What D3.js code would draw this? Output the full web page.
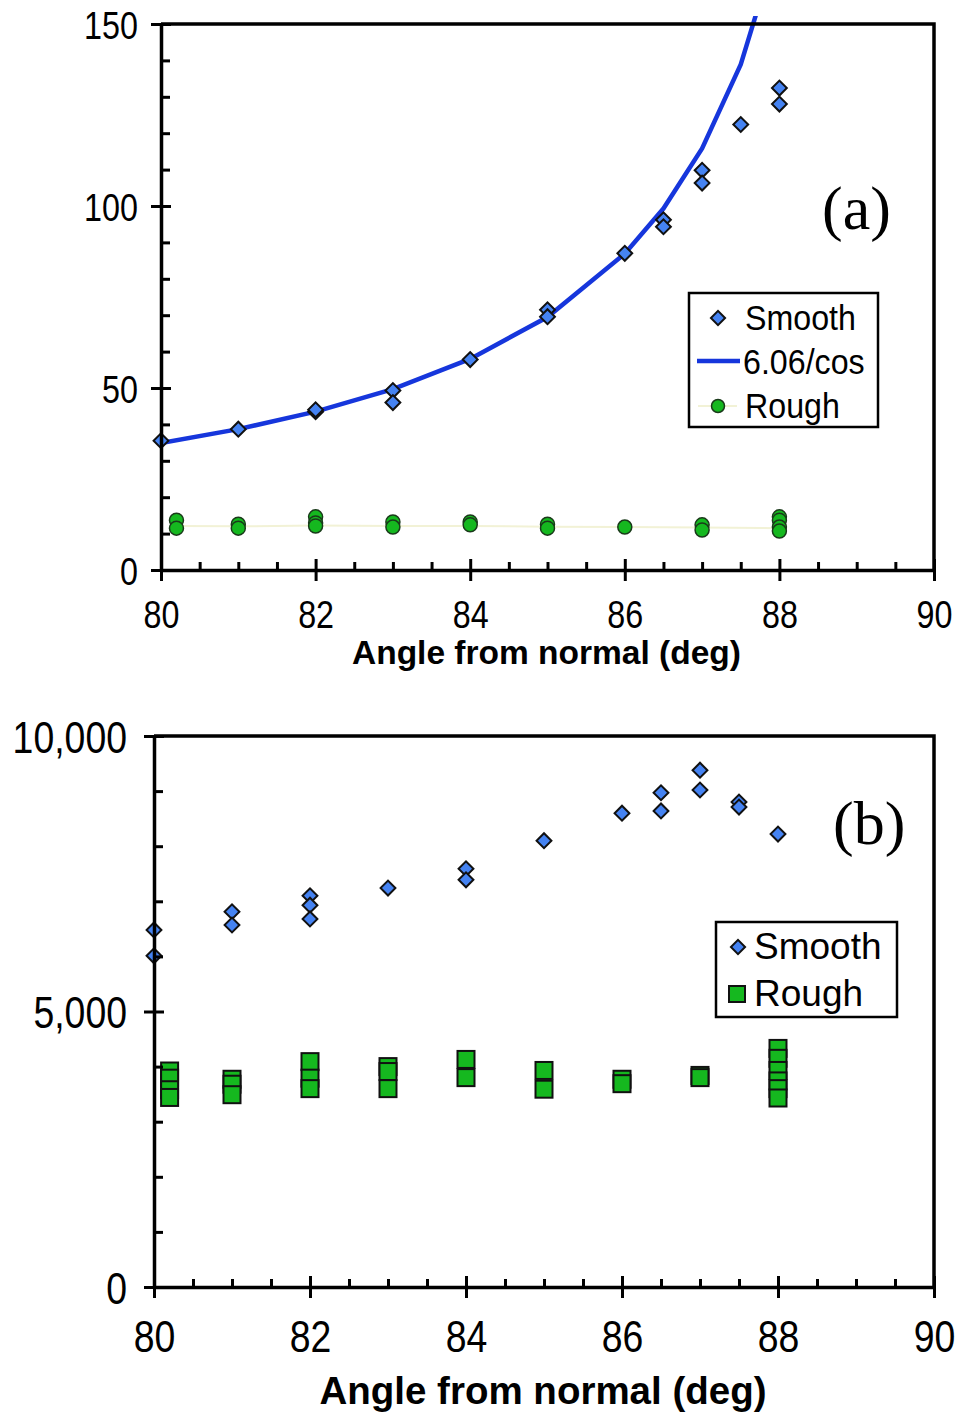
<!DOCTYPE html>
<html>
<head>
<meta charset="utf-8">
<script src="https://cdn.jsdelivr.net/npm/d3@7"></script>
<style>
    html, body { margin: 0; padding: 0; background: #fff; }
    svg { display: block; }
</style>
</head>
<body>
<div id="content"></div>
<script>

/* Chart values */

var majorAngles = [80, 82, 84, 86, 88, 90];
var majorTicksA = [0, 50, 100, 150];
var majorTicksB = [0, 5000, 10000];

// (a) smooth surface points
var smoothAnglesA = [80, 81, 82, 82, 83, 83, 84, 85, 85, 86, 86.5, 86.5, 87, 87, 87.5, 88, 88];
var smoothValuesA = [35.5, 38.7, 43.5, 44.0, 49.3, 46.0, 57.8, 71.5, 69.6, 87.0, 96.2, 94.3, 109.8, 106.3, 122.4, 132.4, 128.0];

// (a) 6.06/cos curve as plotted
var fitAngles = [80, 81, 82, 83, 84, 85, 86, 86.5, 87, 87.5, 88];
var fitValues = [34.9, 38.7, 43.5, 49.7, 58.0, 69.5, 86.9, 99.3, 115.8, 138.9, 173.6];

// (a) rough surface points and their faint trend line
var roughAnglesA = [80.2, 80.2, 81, 81, 82, 82, 82, 83, 83, 84, 84, 85, 85, 86, 87, 87, 88, 88, 88, 88];
var roughValuesA = [13.7, 11.5, 12.6, 11.5, 14.6, 12.9, 12.1, 13.2, 11.8, 13.2, 12.4, 12.6, 11.5, 11.8, 12.4, 11.0, 14.6, 13.7, 11.8, 10.7];
var roughTrendAngles = [80.2, 81, 82, 83, 84, 85, 86, 87, 88];
var roughTrendValues = [12.1, 12.0, 12.2, 12.1, 12.1, 11.9, 11.8, 11.7, 11.5];

// (b) smooth surface points
var smoothAnglesB = [80, 80, 81, 81, 82, 82, 82, 83, 84, 84, 85, 86, 86.5, 86.5, 87, 87, 87.5, 87.5, 88];
var smoothValuesB = [6480, 6010, 6810, 6570, 7100, 6930, 6680, 7240, 7590, 7390, 8100, 8600, 8970, 8640, 9380, 9020, 8800, 8710, 8220];

// (b) rough surface points
var roughAnglesB = [80.2, 80.2, 80.2, 80.2, 81, 81, 81, 82, 82, 82, 83, 83, 83, 84, 84, 85, 85, 86, 86, 87, 87, 88, 88, 88, 88, 88, 88];
var roughValuesB = [3920, 3790, 3580, 3440, 3770, 3680, 3490, 4090, 3790, 3600, 4000, 3910, 3600, 4130, 3800, 3930, 3590, 3770, 3690, 3840, 3800, 4330, 4150, 3930, 3740, 3600, 3430];

var legendLabelsA = ["Smooth", "6.06/cos", "Rough"];
var legendLabelsB = ["Smooth", "Rough"];

var figure = (function () {

    "use strict";

    var width = 957,
        height = 1416,
        blue = "#4583f2",
        green = "#15b81f",
        lineBlue = "#1636dc",
        sans = "'Liberation Sans', Arial, Helvetica, sans-serif",
        serif = "'Liberation Serif', 'Times New Roman', serif",
        svg;

    /* Helpers */

    function zip(xs, ys) {
        return xs.map(function (x, i) {
            return {x: x, y: ys[i]};
        });
    }

    function minorAngles() {
        return d3.range(80, 90.001, 0.5).filter(function (d) {
            return majorAngles.indexOf(d) < 0;
        });
    }

    function diamond(size) {
        return d3.symbol().type(d3.symbolSquare).size(size)();
    }

    // axis with ticks crossing the line, plus short inward minor ticks
    function drawAxes(g, x, y, opts) {
        var xAxis = g.append("g")
            .attr("transform", "translate(0," + y.range()[0] + ")")
            .call(d3.axisBottom(x).tickValues(minorAngles()).tickSize(-8).tickFormat(""));
        xAxis.select(".domain").remove();

        xAxis = g.append("g")
            .attr("transform", "translate(0," + y.range()[0] + ")")
            .call(d3.axisBottom(x).tickValues(majorAngles).tickSizeInner(11).tickSizeOuter(0)
                .tickFormat(d3.format("d")));
        xAxis.selectAll(".tick line").attr("y1", -11);
        xAxis.selectAll(".tick text")
            .attr("y", opts.xLabelY).attr("dy", null)
            .attr("transform", "scale(" + opts.squeeze + ",1)");
        styleAxis(xAxis, opts.tickFont);

        var yAxis = g.append("g")
            .attr("transform", "translate(" + x.range()[0] + ",0)")
            .call(d3.axisLeft(y).tickValues(opts.minorY).tickSize(-9).tickFormat(""));
        yAxis.select(".domain").remove();

        yAxis = g.append("g")
            .attr("transform", "translate(" + x.range()[0] + ",0)")
            .call(d3.axisLeft(y).tickValues(opts.majorY).tickSizeInner(10).tickSizeOuter(0)
                .tickFormat(opts.yFormat));
        yAxis.selectAll(".tick line").attr("x1", 10);
        yAxis.selectAll(".tick text")
            .attr("x", -opts.yLabelGap / opts.squeeze)
            .attr("y", opts.yLabelDy).attr("dy", null)
            .attr("transform", "scale(" + opts.squeeze + ",1)");
        styleAxis(yAxis, opts.tickFont);

        g.selectAll("g > g line").attr("stroke", "#000").attr("stroke-width", 3);

        // frame: top and right sides
        g.append("path")
            .attr("d", "M" + x.range()[0] + "," + y.range()[1] +
                "H" + x.range()[1] + "V" + y.range()[0])
            .attr("fill", "none")
            .attr("stroke", "#000")
            .attr("stroke-width", 3.5);

        g.append("text")
            .attr("x", (x.range()[0] + x.range()[1]) / 2 - 1)
            .attr("y", opts.titleY)
            .attr("text-anchor", "middle")
            .attr("font-family", sans)
            .attr("font-weight", "bold")
            .attr("font-size", opts.titleFont)
            .text("Angle from normal (deg)");
    }

    function styleAxis(axis, size) {
        axis.attr("font-family", sans).attr("font-size", size);
        axis.selectAll("text").attr("fill", "#000");
        axis.select(".domain").attr("stroke", "#000").attr("stroke-width", 3.5);
    }

    /* Panel (a) */

    function createTopChart() {
        var g = svg.append("g").attr("class", "panel-a"),
            x = d3.scaleLinear().domain([80, 90]).range([161, 934]),
            y = d3.scaleLinear().domain([0, 150]).range([570, 24]);

        g.append("clipPath").attr("id", "clip-a")
            .append("rect").attr("x", x(80)).attr("y", 16)
            .attr("width", x(90) - x(80)).attr("height", y(0) - 16);

        g.append("path")
            .datum(zip(roughTrendAngles, roughTrendValues))
            .attr("fill", "none")
            .attr("stroke", "#f2f2d6")
            .attr("stroke-width", 2)
            .attr("d", d3.line().x(function (d) { return x(d.x); }).y(function (d) { return y(d.y); }));

        g.selectAll(".rough")
            .data(zip(roughAnglesA, roughValuesA))
            .enter()
            .append("circle")
            .attr("class", "rough")
            .attr("cx", function (d) { return x(d.x); })
            .attr("cy", function (d) { return y(d.y); })
            .attr("r", 7)
            .attr("fill", green)
            .attr("stroke", "#1a3a1a")
            .attr("stroke-width", 1.5);

        g.append("path")
            .datum(zip(fitAngles, fitValues))
            .attr("clip-path", "url(#clip-a)")
            .attr("fill", "none")
            .attr("stroke", lineBlue)
            .attr("stroke-width", 4.5)
            .attr("d", d3.line().x(function (d) { return x(d.x); }).y(function (d) { return y(d.y); }));

        g.selectAll(".smooth")
            .data(zip(smoothAnglesA, smoothValuesA))
            .enter()
            .append("path")
            .attr("class", "smooth")
            .attr("d", diamond(110))
            .attr("transform", function (d) {
                return "translate(" + x(d.x) + "," + y(d.y) + ") rotate(45)";
            })
            .attr("fill", blue)
            .attr("stroke", "#111")
            .attr("stroke-width", 2);

        drawAxes(g, x, y, {
            minorY: d3.range(10, 150, 10).filter(function (d) { return d % 50; }),
            majorY: majorTicksA,
            yFormat: d3.format("d"),
            tickFont: 38,
            squeeze: 0.85,
            xLabelY: 58,
            yLabelGap: 23,
            yLabelDy: 14,
            titleY: 664,
            titleFont: 33.5
        });

        // legend
        var lg = g.append("g").attr("font-family", sans).attr("font-size", 35);
        lg.append("rect")
            .attr("x", 689).attr("y", 293).attr("width", 189).attr("height", 134)
            .attr("fill", "#fff").attr("stroke", "#000").attr("stroke-width", 2.5);
        lg.append("path")
            .attr("d", diamond(100))
            .attr("transform", "translate(718,318) rotate(45)")
            .attr("fill", blue).attr("stroke", "#111").attr("stroke-width", 2);
        lg.append("line")
            .attr("x1", 697).attr("x2", 740).attr("y1", 361).attr("y2", 361)
            .attr("stroke", lineBlue).attr("stroke-width", 4.5);
        lg.append("line")
            .attr("x1", 698).attr("x2", 737).attr("y1", 406).attr("y2", 406)
            .attr("stroke", "#f2f2d6").attr("stroke-width", 2);
        lg.append("circle")
            .attr("cx", 718).attr("cy", 406).attr("r", 6.5)
            .attr("fill", green).attr("stroke", "#1a3a1a").attr("stroke-width", 1.5);
        lg.selectAll(".label")
            .data(legendLabelsA)
            .enter()
            .append("text")
            .attr("class", "label")
            .attr("transform", function (d, i) {
                return "translate(" + (i === 1 ? 743 : 745) + "," + (330 + i * 44) + ") scale(0.92,1)";
            })
            .text(function (d) { return d; });

        g.append("text")
            .attr("x", 822).attr("y", 229)
            .attr("font-family", serif).attr("font-size", 62)
            .text("(a)");
    }

    /* Panel (b) */

    function createBottomChart() {
        var g = svg.append("g").attr("class", "panel-b"),
            x = d3.scaleLinear().domain([80, 90]).range([154, 934]),
            y = d3.scaleLinear().domain([0, 10000]).range([1287, 736]);

        g.selectAll(".smooth")
            .data(zip(smoothAnglesB, smoothValuesB))
            .enter()
            .append("path")
            .attr("class", "smooth")
            .attr("d", diamond(110))
            .attr("transform", function (d) {
                return "translate(" + x(d.x) + "," + y(d.y) + ") rotate(45)";
            })
            .attr("fill", blue)
            .attr("stroke", "#111")
            .attr("stroke-width", 2);

        g.selectAll(".rough")
            .data(zip(roughAnglesB, roughValuesB))
            .enter()
            .append("rect")
            .attr("class", "rough")
            .attr("x", function (d) { return x(d.x) - 8.5; })
            .attr("y", function (d) { return y(d.y) - 8.5; })
            .attr("width", 17)
            .attr("height", 17)
            .attr("fill", green)
            .attr("stroke", "#111")
            .attr("stroke-width", 2);

        drawAxes(g, x, y, {
            minorY: [1000, 2000, 3000, 4000, 6000, 7000, 8000, 9000],
            majorY: majorTicksB,
            yFormat: d3.format(","),
            tickFont: 44,
            squeeze: 0.85,
            xLabelY: 65,
            yLabelGap: 27,
            yLabelDy: 16,
            titleY: 1404,
            titleFont: 38.5
        });

        // legend
        var lg = g.append("g").attr("font-family", sans).attr("font-size", 37);
        lg.append("rect")
            .attr("x", 716).attr("y", 922).attr("width", 181).attr("height", 95)
            .attr("fill", "#fff").attr("stroke", "#000").attr("stroke-width", 2.5);
        lg.append("path")
            .attr("d", diamond(100))
            .attr("transform", "translate(738,947) rotate(45)")
            .attr("fill", blue).attr("stroke", "#111").attr("stroke-width", 2);
        lg.append("rect")
            .attr("x", 729).attr("y", 986).attr("width", 16).attr("height", 16)
            .attr("fill", green).attr("stroke", "#111").attr("stroke-width", 2);
        lg.selectAll(".label")
            .data(legendLabelsB)
            .enter()
            .append("text")
            .attr("class", "label")
            .attr("x", 754)
            .attr("y", function (d, i) { return 959 + i * 47; })
            .text(function (d) { return d; });

        g.append("text")
            .attr("x", 833).attr("y", 844)
            .attr("font-family", serif).attr("font-size", 62)
            .text("(b)");
    }

    /* Render the figure */

    function render() {
        svg = d3.select("#content").append("svg")
            .attr("width", width)
            .attr("height", height)
            .attr("viewBox", "0 0 " + width + " " + height);

        createTopChart();
        createBottomChart();
    }

    return {
        render: render
    };

}());

figure.render();
</script>
</body>
</html>
